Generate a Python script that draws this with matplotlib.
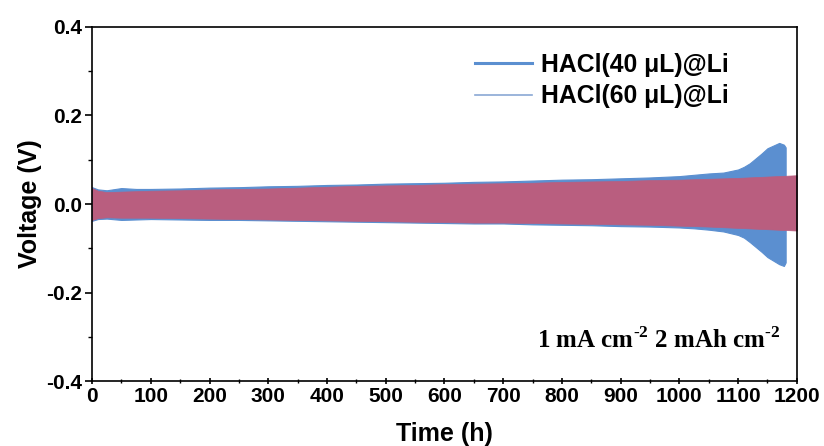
import matplotlib.pyplot as plt
from matplotlib.lines import Line2D

# envelope of the voltage oscillation (V)
t_40 = [0, 10, 25, 50, 75, 100, 150, 200, 250, 300, 350, 400, 450, 500, 550,
        600, 650, 700, 750, 800, 850, 900, 950, 1000, 1025, 1050, 1075, 1100,
        1110, 1120, 1130, 1140, 1150, 1160, 1170, 1178, 1181]
up_40 = [0.038, 0.033, 0.031, 0.036, 0.034, 0.034, 0.035, 0.037, 0.038, 0.040,
         0.041, 0.043, 0.044, 0.046, 0.047, 0.048, 0.050, 0.051, 0.053, 0.055,
         0.056, 0.058, 0.060, 0.063, 0.066, 0.069, 0.071, 0.078, 0.084, 0.092,
         0.103, 0.114, 0.126, 0.132, 0.138, 0.134, 0.128]
lo_40 = [-0.038, -0.034, -0.033, -0.036, -0.035, -0.034, -0.035, -0.036, -0.036,
         -0.037, -0.038, -0.039, -0.040, -0.041, -0.042, -0.043, -0.044, -0.044,
         -0.046, -0.047, -0.048, -0.050, -0.051, -0.053, -0.055, -0.058, -0.062,
         -0.070, -0.076, -0.086, -0.097, -0.108, -0.120, -0.128, -0.136, -0.140,
         -0.132]

t_60 = [0, 10, 25, 50, 100, 150, 200, 250, 300, 350, 400, 450, 500, 550, 600,
        650, 700, 750, 800, 850, 900, 950, 1000, 1050, 1100, 1150, 1200]
up_60 = [0.036, 0.030, 0.027, 0.028, 0.030, 0.031, 0.033, 0.034, 0.035, 0.037,
         0.039, 0.041, 0.042, 0.043, 0.045, 0.046, 0.047, 0.048, 0.050, 0.051,
         0.052, 0.054, 0.055, 0.057, 0.059, 0.062, 0.065]
lo_60 = [-0.036, -0.032, -0.030, -0.031, -0.031, -0.032, -0.033, -0.034, -0.035,
         -0.036, -0.037, -0.038, -0.039, -0.040, -0.041, -0.042, -0.042, -0.043,
         -0.044, -0.045, -0.046, -0.047, -0.049, -0.051, -0.054, -0.057, -0.060]

labels = ['HACl(40 μL)@Li', 'HACl(60 μL)@Li']
c_40 = '#5b8fd0'
c_60 = '#b95e7f'

plt.rcParams['font.family'] = ['Liberation Sans', 'DejaVu Sans']
plt.rcParams['font.weight'] = 'bold'
plt.rcParams['axes.unicode_minus'] = False
plt.rcParams['mathtext.fontset'] = 'custom'
plt.rcParams['mathtext.rm'] = 'Liberation Serif:bold'
plt.rcParams['mathtext.bf'] = 'Liberation Serif:bold'

fig = plt.figure(figsize=(8.24, 4.46), dpi=100)
ax = fig.add_axes([0.1117, 0.1457, 0.8553, 0.7938])

ax.fill_between(t_40, lo_40, up_40, color=c_40, lw=0.8, edgecolor=c_40)
ax.fill_between(t_60, lo_60, up_60, color=c_60, lw=0.5, edgecolor=c_60)

ax.set_xlim(0, 1200)
ax.set_ylim(-0.4, 0.4)
ax.set_xticks(range(0, 1201, 100))
ax.set_xticks(range(50, 1200, 100), minor=True)
ax.set_yticks([-0.4, -0.2, 0.0, 0.2, 0.4])
ax.set_yticks([-0.3, -0.1, 0.1, 0.3], minor=True)
ax.tick_params(axis='both', which='major', labelsize=15, width=1.2, length=5,
               pad=2)
ax.tick_params(axis='both', which='minor', width=1.0, length=3)
ax.tick_params(axis='x', which='both', direction='inout')
for lab in ax.get_xticklabels() + ax.get_yticklabels():
    lab.set_fontweight('bold')
for s in ax.spines.values():
    s.set_linewidth(1.2)

ax.set_xlabel('Time (h)', fontsize=18, fontweight='bold', labelpad=11)
ax.set_ylabel('Voltage (V)', fontsize=18, fontweight='bold', labelpad=3)

handles = [Line2D([], [], color=c_40, lw=2.2),
           Line2D([], [], color='#8aa8d4', lw=1.2)]
ax.legend(handles, labels, loc='upper right', bbox_to_anchor=(0.935, 0.99),
          frameon=False, handlelength=2.3, handletextpad=0.35,
          labelspacing=0.3, prop={'weight': 'bold', 'size': 17.8})

ax.text(0.976, 0.116, r'1 mA cm$^{\text{-2}}$ 2 mAh cm$^{\text{-2}}$',
        transform=ax.transAxes, ha='right', va='center', fontsize=18,
        fontweight='bold', family='Liberation Serif')

fig.savefig('out.png', dpi=100)
